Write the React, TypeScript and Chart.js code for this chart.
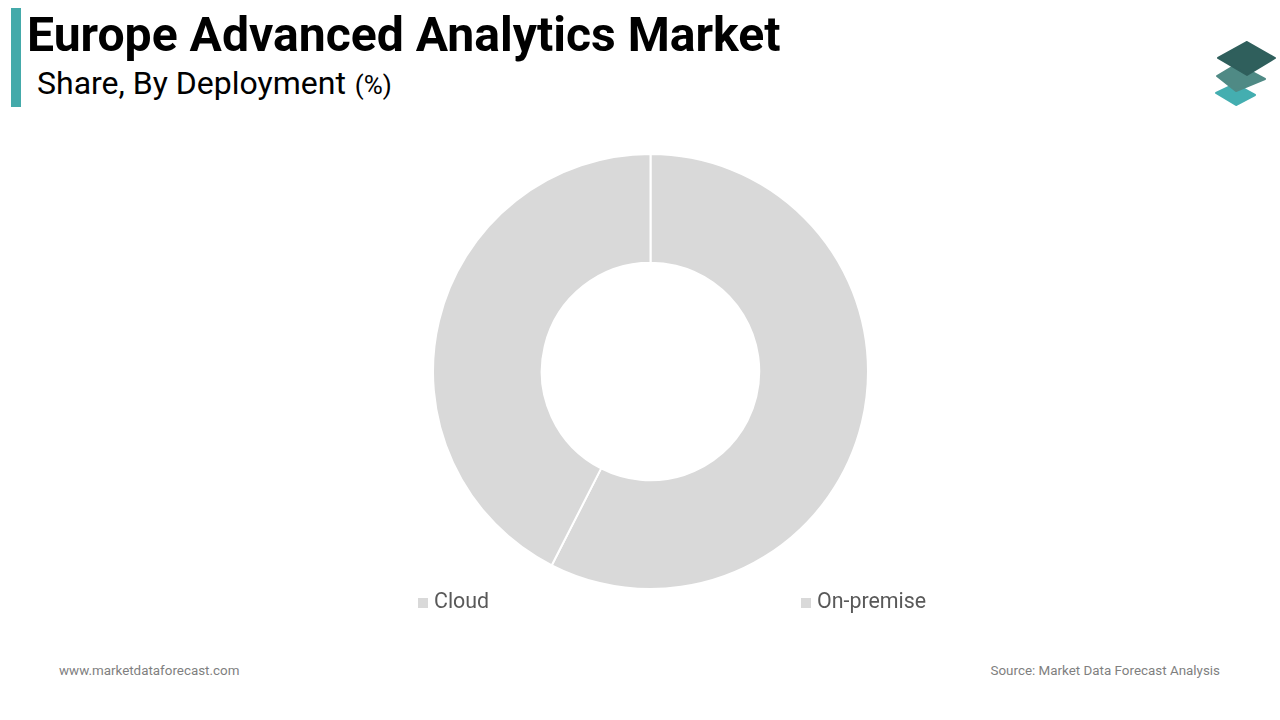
import React, { useEffect, useRef } from "react";
import Chart from "chart.js/auto";

const categories = ["Cloud", "On-premise"];
const shares = [57.5, 42.5];
const sliceColors = ["#d9d9d9", "#d9d9d9"];
const legendLeft = [418, 801];

const textBase: React.CSSProperties = {
  position: "absolute",
  whiteSpace: "nowrap",
  fontFamily: "Roboto",
  lineHeight: 1,
};

export default function App() {
  const canvasRef = useRef<HTMLCanvasElement>(null);

  useEffect(() => {
    if (!canvasRef.current) return;
    const chart = new Chart(canvasRef.current, {
      type: "doughnut",
      data: {
        labels: categories,
        datasets: [
          {
            data: shares,
            backgroundColor: sliceColors,
            borderColor: "#ffffff",
            borderWidth: 2,
            hoverOffset: 0,
          },
        ],
      },
      options: {
        animation: false,
        responsive: false,
        cutout: "50%",
        plugins: { legend: { display: false }, tooltip: { enabled: false } },
      },
    });
    return () => chart.destroy();
  }, []);

  return (
    <div style={{ position: "fixed", left: 0, top: 0, width: 1280, height: 720, background: "#fff", overflow: "hidden" }}>
      <div style={{ position: "absolute", left: 11, top: 8, width: 10, height: 99, background: "#44aaaa" }} />
      <div style={{ ...textBase, left: 27, top: 11, fontSize: 48.1, fontWeight: 700, color: "#000" }}>
        Europe Advanced Analytics Market
      </div>
      <div style={{ ...textBase, left: 37, top: 67, fontSize: 32, color: "#000" }}>
        Share, By Deployment <span style={{ fontSize: 26, marginLeft: 1 }}>(%)</span>
      </div>

      <svg style={{ position: "absolute", left: 1205, top: 35 }} width={75} height={75}>
        <polygon points="11,58 30,49 50,60 31,70" fill="#44aeb0" stroke="#44aeb0" strokeWidth={2} strokeLinejoin="round" />
        <polygon points="12,41 32,29 60,44 31,56" fill="#4f8a85" stroke="#4f8a85" strokeWidth={2} strokeLinejoin="round" />
        <polygon points="13,23 42,7 70,23 42,40" fill="#2f5f5c" stroke="#2f5f5c" strokeWidth={2} strokeLinejoin="round" />
      </svg>

      <canvas ref={canvasRef} width={437} height={437} style={{ position: "absolute", left: 432, top: 153, width: 437, height: 437 }} />

      {categories.map((name, i) => (
        <div key={name} style={{ ...textBase, left: legendLeft[i], top: 590, fontSize: 21.4, color: "#595959" }}>
          <span style={{ display: "inline-block", width: 10, height: 10, background: sliceColors[i], marginRight: 6 }} />
          {name}
        </div>
      ))}

      <div style={{ ...textBase, left: 59, top: 664, fontSize: 13.4, color: "#7f7f7f" }}>www.marketdataforecast.com</div>
      <div style={{ ...textBase, right: 60, top: 664, fontSize: 13.4, color: "#7f7f7f" }}>Source: Market Data Forecast Analysis</div>
    </div>
  );
}
